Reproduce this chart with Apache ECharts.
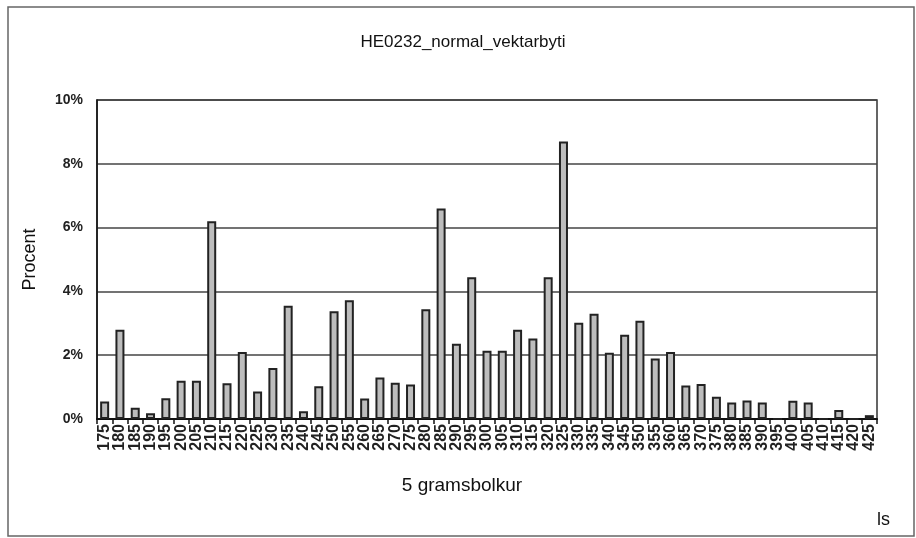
<!DOCTYPE html>
<html>
<head>
<meta charset="utf-8">
<script src="https://cdn.jsdelivr.net/npm/echarts@6/dist/echarts.min.js"></script>
<style>
  html, body { margin: 0; padding: 0; background: #fff; }
  #chart { width: 916px; height: 538px; }
</style>
</head>
<body>
<div id="chart"></div>
<script>
// 5 gram classes
const categories = [
  "175", "180", "185", "190", "195", "200", "205", "210", "215", "220",
  "225", "230", "235", "240", "245", "250", "255", "260", "265", "270",
  "275", "280", "285", "290", "295", "300", "305", "310", "315", "320",
  "325", "330", "335", "340", "345", "350", "355", "360", "365", "370",
  "375", "380", "385", "390", "395", "400", "405", "410", "415", "420",
  "425"
];
// percent per class
const procent = [
  0.55, 2.8, 0.35, 0.18, 0.65, 1.2, 1.2, 6.2, 1.12, 2.1,
  0.86, 1.6, 3.55, 0.24, 1.03, 3.38, 3.72, 0.64, 1.3, 1.14,
  1.08, 3.44, 6.6, 2.36, 4.44, 2.14, 2.14, 2.8, 2.52, 4.44,
  8.7, 3.02, 3.3, 2.08, 2.64, 3.08, 1.9, 2.1, 1.05, 1.1,
  0.7, 0.52, 0.58, 0.52, 0, 0.57, 0.52, 0, 0.28, 0,
  0.12
];
const yTicks = [0, 2, 4, 6, 8, 10];

const chart = echarts.init(document.getElementById("chart"));
const option = {
  animation: false,
  backgroundColor: "#fff",
  title: {
    text: "HE0232_normal_vektarbyti",
    left: 458,
    top: 29,
    textAlign: "center",
    textStyle: {
      fontFamily: "Liberation Sans",
      fontWeight: "normal",
      fontSize: 17,
      color: "#111"
    }
  },
  grid: {
    left: 97,
    right: 39,
    top: 100,
    bottom: 119,
    show: true,
    borderColor: "#333",
    borderWidth: 1.5
  },
  xAxis: {
    type: "category",
    data: categories,
    name: "5 gramsbolkur",
    nameLocation: "middle",
    nameGap: 57,
    nameTextStyle: {
      fontFamily: "Liberation Sans",
      fontSize: 19,
      color: "#111",
      padding: [0, 50, 0, 0]
    },
    axisLine: { lineStyle: { color: "#111", width: 2 } },
    axisTick: { show: true, length: 5, lineStyle: { color: "#111", width: 1.5 } },
    axisLabel: {
      interval: 0,
      rotate: 90,
      margin: 5,
      fontFamily: "Liberation Sans",
      fontWeight: "bold",
      fontSize: 16,
      color: "#222"
    }
  },
  yAxis: {
    type: "value",
    min: yTicks[0],
    max: yTicks[yTicks.length - 1],
    interval: 2,
    name: "Procent",
    nameLocation: "middle",
    nameGap: 58,
    nameTextStyle: {
      fontFamily: "Liberation Sans",
      fontSize: 18,
      color: "#111"
    },
    axisLine: { show: true, lineStyle: { color: "#111", width: 1.5 } },
    axisTick: { show: false },
    axisLabel: {
      margin: 14,
      formatter: "{value}%",
      fontFamily: "Liberation Sans",
      fontWeight: "bold",
      fontSize: 14,
      color: "#222"
    },
    splitLine: { lineStyle: { color: "#444", width: 1.5 } }
  },
  series: [
    {
      type: "bar",
      data: procent,
      barWidth: 9,
      itemStyle: {
        color: "#bdbdbd",
        borderColor: "#222",
        borderWidth: 2
      }
    }
  ],
  graphic: [
    {
      type: "rect",
      shape: { x: 8, y: 7, width: 906, height: 529 },
      style: { fill: "none", stroke: "#666", lineWidth: 1.5 },
      silent: true
    },
    {
      type: "text",
      left: 877,
      top: 511,
      style: {
        text: "ls",
        font: "18px 'Liberation Sans'",
        fill: "#111"
      }
    }
  ]
};
chart.setOption(option);
</script>
</body>
</html>
